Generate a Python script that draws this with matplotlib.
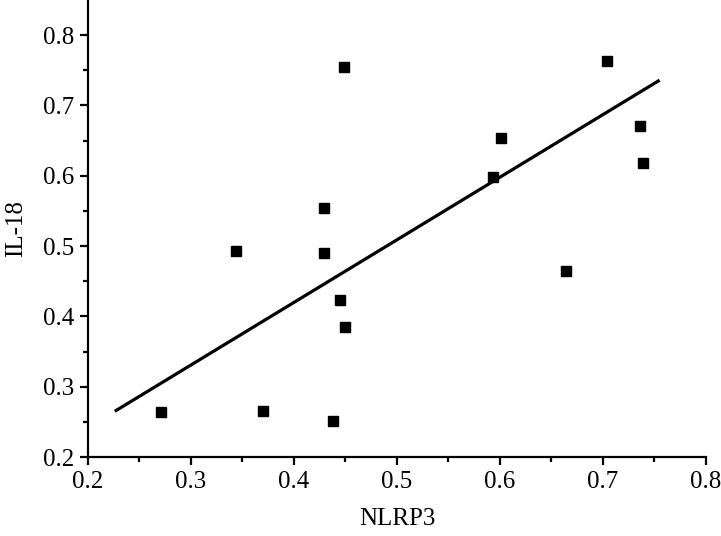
import numpy as np
import matplotlib.pyplot as plt

# scatter values
nlrp3 = [0.271, 0.344, 0.370, 0.429, 0.429, 0.438, 0.445, 0.449, 0.450,
         0.593, 0.601, 0.664, 0.704, 0.736, 0.739]
il18 = [0.264, 0.493, 0.265, 0.554, 0.490, 0.251, 0.423, 0.755, 0.385,
        0.598, 0.654, 0.464, 0.763, 0.671, 0.618]

# fitted line endpoints
fit_x = [0.226, 0.755]
fit_y = [0.265, 0.736]

plt.rcParams['font.family'] = ['Liberation Serif', 'DejaVu Serif']

fig = plt.figure(figsize=(7.21, 5.36), dpi=100)
ax = fig.add_axes([88 / 721, 79 / 536, 618 / 721, 457 / 536])

ax.plot(fit_x, fit_y, color='black', linewidth=2.3, solid_capstyle='butt')
ax.plot(nlrp3, il18, 's', color='black', markersize=7.5, linestyle='none')

ax.set_xlim(0.2, 0.8)
ax.set_ylim(0.2, 0.85)
ax.set_xticks(np.arange(0.2, 0.81, 0.1))
ax.set_yticks(np.arange(0.2, 0.81, 0.1))
ax.set_xticks(np.arange(0.25, 0.8, 0.1), minor=True)
ax.set_yticks(np.arange(0.25, 0.85, 0.1), minor=True)
ax.set_xticklabels(['%.1f' % v for v in np.arange(0.2, 0.81, 0.1)])
ax.set_yticklabels(['%.1f' % v for v in np.arange(0.2, 0.81, 0.1)])

ax.spines['top'].set_visible(False)
ax.spines['right'].set_visible(False)
for s in ['left', 'bottom']:
    ax.spines[s].set_linewidth(1.6)

ax.tick_params(which='major', direction='out', length=6, width=1.6, labelsize=18, pad=4)
ax.tick_params(which='minor', direction='out', length=3.5, width=1.6)

ax.set_xlabel('NLRP3', fontsize=18, labelpad=11)
ax.set_ylabel('IL-18', fontsize=18, labelpad=11.5)

fig.savefig('out.png', dpi=100)
